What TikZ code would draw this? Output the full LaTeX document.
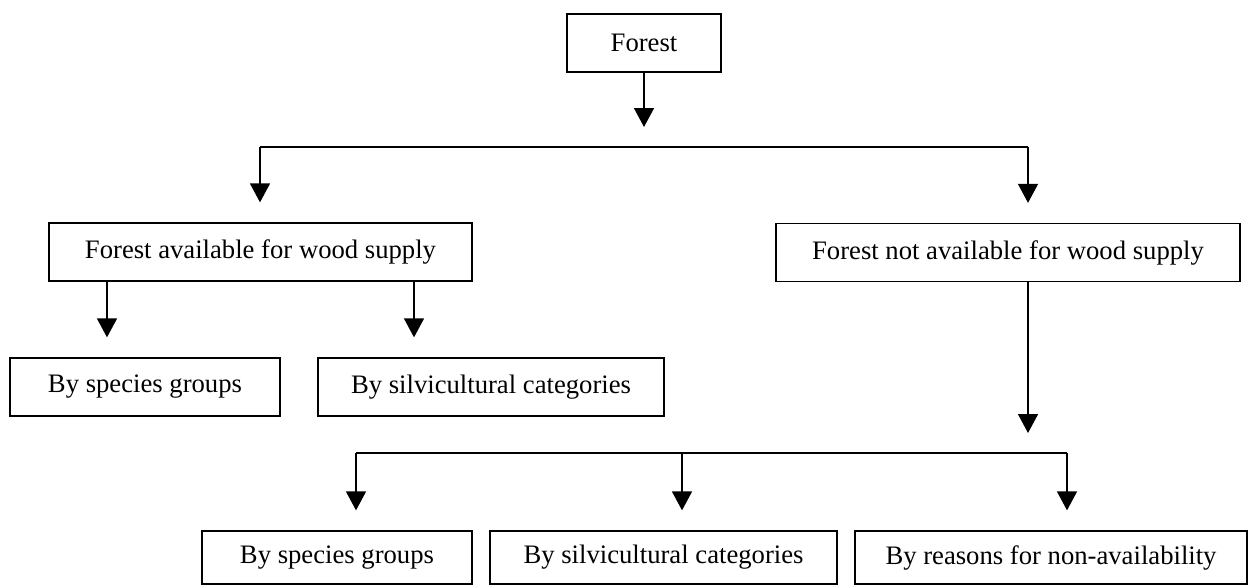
\documentclass[tikz,border=0pt]{standalone}
\usepackage{fontspec}
\setmainfont{Liberation Serif}
\usetikzlibrary{arrows.meta}

\begin{document}
\begin{tikzpicture}
[
    x=0.45pt, y=-0.45pt,
    every node/.style={shape=rectangle, draw, line width=0.6pt, minimum height=26.1pt, font=\fontsize{12pt}{14pt}\selectfont},
    lowbox/.style={minimum height=23.85pt},
    pil/.style={-{Triangle[width=9pt,length=8.5pt]}, line width=0.55pt, shorten >=9pt},
    line/.style={line width=0.55pt},
]
\useasboundingbox (0,0) rectangle (1250,585);

\node(forest) at (644,43) [minimum width=69.3pt]{Forest};

\node(avail) at (260.5,252) [minimum width=190.35pt]{Forest available for wood supply};
\node(notavail) at (1008,252.5) [minimum width=208.8pt]{Forest not available for wood supply};

\node(sg1) at (145,387) [minimum width=121.5pt]{By species groups};
\node(sc1) at (491,387) [minimum width=155.7pt]{By silvicultural categories};

\node(sg2) at (337,557.5) [lowbox, minimum width=121.5pt]{By species groups};
\node(sc2) at (663.5,557.5) [lowbox, minimum width=156.15pt]{By silvicultural categories};
\node(rn) at (1051,557.5) [lowbox, minimum width=176.4pt]{By reasons for non-availability};

% first split
\coordinate(f1l) at (260,147);
\coordinate(f1r) at (1028,147);
\draw[line] (f1l) -- (f1r);
\draw[pil] (forest) -- (forest |- f1l);
\draw[pil] (f1l) -- (f1l |- avail.north);
\draw[pil] (f1r) -- (f1r |- notavail.north);

% available
\coordinate(d1) at (107,0);
\coordinate(d2) at (414,0);
\draw[pil] (avail.south -| d1) -- (sg1.north -| d1);
\draw[pil] (avail.south -| d2) -- (sc1.north -| d2);

% not available
\coordinate(f2l) at (356,453);
\coordinate(f2m) at (682,453);
\coordinate(f2r) at (1067,453);
\draw[pil] (notavail.south -| f1r) -- (f1r |- f2l);
\draw[line] (f2l) -- (f2r);
\draw[pil] (f2l) -- (f2l |- sg2.north);
\draw[pil] (f2m) -- (f2m |- sc2.north);
\draw[pil] (f2r) -- (f2r |- rn.north);

\end{tikzpicture}
\end{document}
